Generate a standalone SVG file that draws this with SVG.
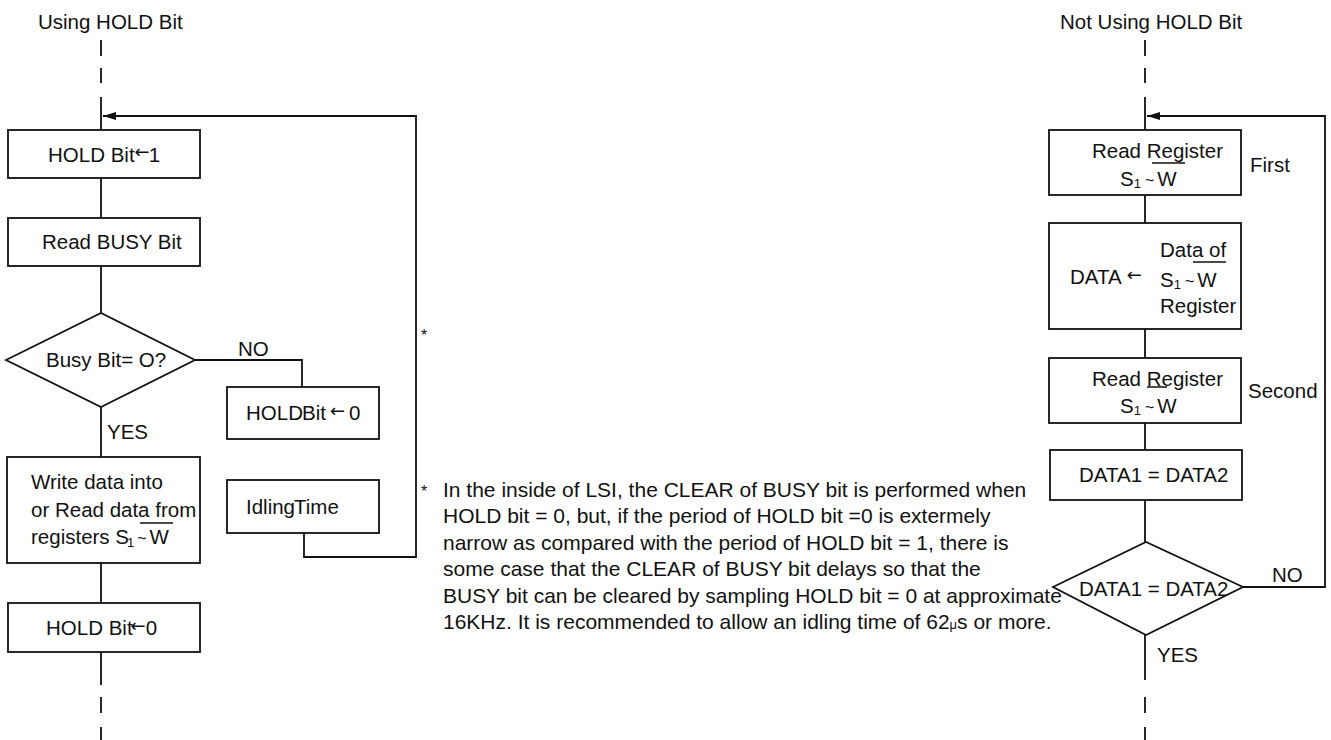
<svg xmlns="http://www.w3.org/2000/svg" width="1331" height="740" viewBox="0 0 1331 740">
<defs>
<style>
text{font-family:"Liberation Sans",Arial,sans-serif;font-size:20.5px;fill:#111}
.box{fill:#fff;stroke:#111;stroke-width:1.8}
.ln{fill:none;stroke:#111;stroke-width:1.8}
.sm{font-size:16px}
.ar{font-family:"DejaVu Sans",sans-serif;font-size:18px}
.sub{font-size:13px}
.nt{font-size:21px}
.ov{stroke:#111;stroke-width:1.5}
</style>
<marker id="ah" viewBox="0 0 13 8" refX="13" refY="4" markerWidth="13" markerHeight="8" markerUnits="userSpaceOnUse" orient="auto">
<path d="M0,0 L13,4 L0,8 Z" fill="#111"/>
</marker>
</defs>

<g id="titles">
<text x="38" y="29">Using HOLD Bit</text>
<text x="1060" y="29">Not Using HOLD Bit</text>
</g>

<g id="connectors">
<!-- left column -->
<path class="ln" d="M101 40V56M101 68V83M101 97V130"/>
<path class="ln" d="M101 178V218M101 266V313M101 407V457M101 563V603"/>
<path class="ln" d="M101 652V685M101 697V713M101 727V740"/>
<path class="ln" d="M195 360H302V387"/>
<path class="ln" d="M304 533V557H416V116H103" marker-end="url(#ah)"/>
<!-- right column -->
<path class="ln" d="M1145 40V56M1145 68V83M1145 97V130"/>
<path class="ln" d="M1145 195V223M1145 329V358M1145 423V450M1145 500V542"/>
<path class="ln" d="M1145 635V680M1145 697V713M1145 727V740"/>
<path class="ln" d="M1243 587H1325V116H1147" marker-end="url(#ah)"/>
<text x="238" y="356">NO</text>
<text x="107" y="439">YES</text>
<text x="1272" y="582">NO</text>
<text x="1157" y="662">YES</text>
<text x="421" y="341" class="sm">*</text>
</g>

<g id="hold1">
<rect class="box" x="8" y="130" width="192" height="48"/>
<text x="48" y="162">HOLD Bit<tspan class="ar" dy="-4">←</tspan><tspan dx="-1" dy="4">1</tspan></text>
</g>

<g id="readbusy">
<rect class="box" x="8" y="218" width="192" height="48"/>
<text x="42" y="249">Read BUSY Bit</text>
</g>

<g id="busycheck">
<polygon class="box" points="6,360 101,313 195,360 101,407"/>
<text x="46" y="367">Busy Bit= O?</text>
</g>

<g id="hold0a">
<rect class="box" x="227" y="387" width="152" height="52"/>
<text x="246" y="420">HOLD<tspan dx="-1">Bit</tspan><tspan class="ar" dx="4" dy="-3">←</tspan><tspan dx="4" dy="3">0</tspan></text>
</g>

<g id="idling">
<rect class="box" x="227" y="480" width="152" height="53"/>
<text x="246" y="514">Idling<tspan dx="-1">Time</tspan></text>
</g>

<g id="writeread">
<rect class="box" x="7" y="457" width="193" height="106"/>
<text x="31" y="489">Write data into</text>
<text x="31" y="517">or Read data from</text>
<text x="31" y="544">registers S<tspan class="sub" dx="-2" dy="3">1</tspan><tspan class="sm" dx="3" dy="-3">~</tspan><tspan dx="3">W</tspan></text>
<line class="ov" x1="140" y1="523" x2="173" y2="523"/>
</g>

<g id="hold0b">
<rect class="box" x="8" y="603" width="192" height="49"/>
<text x="46" y="635">HOLD Bit<tspan class="ar" dx="-2" dy="-3">←</tspan><tspan dx="0" dy="3">0</tspan></text>
</g>

<g id="note">
<text x="421" y="497" class="sm">*</text>
<text class="nt" x="443" y="497">In the inside of LSI, the CLEAR of BUSY bit is performed when</text>
<text class="nt" x="443" y="523">HOLD bit = 0, but, if the period of HOLD bit =0 is extermely</text>
<text class="nt" x="443" y="550">narrow as compared with the period of HOLD bit = 1, there is</text>
<text class="nt" x="443" y="576">some case that the CLEAR of BUSY bit delays so that the</text>
<text class="nt" x="443" y="603">BUSY bit can be cleared by sampling HOLD bit = 0 at approximate</text>
<text class="nt" x="443" y="629">16KHz. It is recommended to allow an idling time of 62<tspan class="sub">μ</tspan>s  or  more.</text>
</g>

<g id="readfirst">
<rect class="box" x="1049" y="130" width="192" height="65"/>
<text x="1092" y="158">Read Register</text>
<text x="1120" y="186">S<tspan class="sub" dy="2">1</tspan><tspan class="sm" dx="4" dy="-2">~</tspan><tspan dx="3">W</tspan></text>
<line class="ov" x1="1152" y1="163" x2="1185" y2="163"/>
<text x="1250" y="172">First</text>
</g>

<g id="datastore">
<rect class="box" x="1049" y="223" width="192" height="106"/>
<text x="1070" y="284">DATA<tspan class="ar" dx="5" dy="-3">←</tspan></text>
<text x="1160" y="257">Data of</text>
<text x="1160" y="287">S<tspan class="sub" dy="2">1</tspan><tspan class="sm" dx="4" dy="-2">~</tspan><tspan dx="3">W</tspan></text>
<text x="1160" y="313">Register</text>
<line class="ov" x1="1193" y1="262" x2="1226" y2="262"/>
</g>

<g id="readsecond">
<rect class="box" x="1049" y="358" width="192" height="65"/>
<text x="1092" y="386">Read Register</text>
<text x="1120" y="413">S<tspan class="sub" dy="2">1</tspan><tspan class="sm" dx="4" dy="-2">~</tspan><tspan dx="3">W</tspan></text>
<line class="ov" x1="1147" y1="387" x2="1167" y2="387"/>
<text x="1248" y="398">Second</text>
</g>

<g id="datacopy">
<rect class="box" x="1050" y="450" width="192" height="50"/>
<text x="1079" y="482">DATA1 = DATA2</text>
</g>

<g id="datacompare">
<polygon class="box" points="1053,587 1146,542 1243,587 1146,635"/>
<text x="1079" y="596">DATA1 = DATA2</text>
</g>
</svg>
